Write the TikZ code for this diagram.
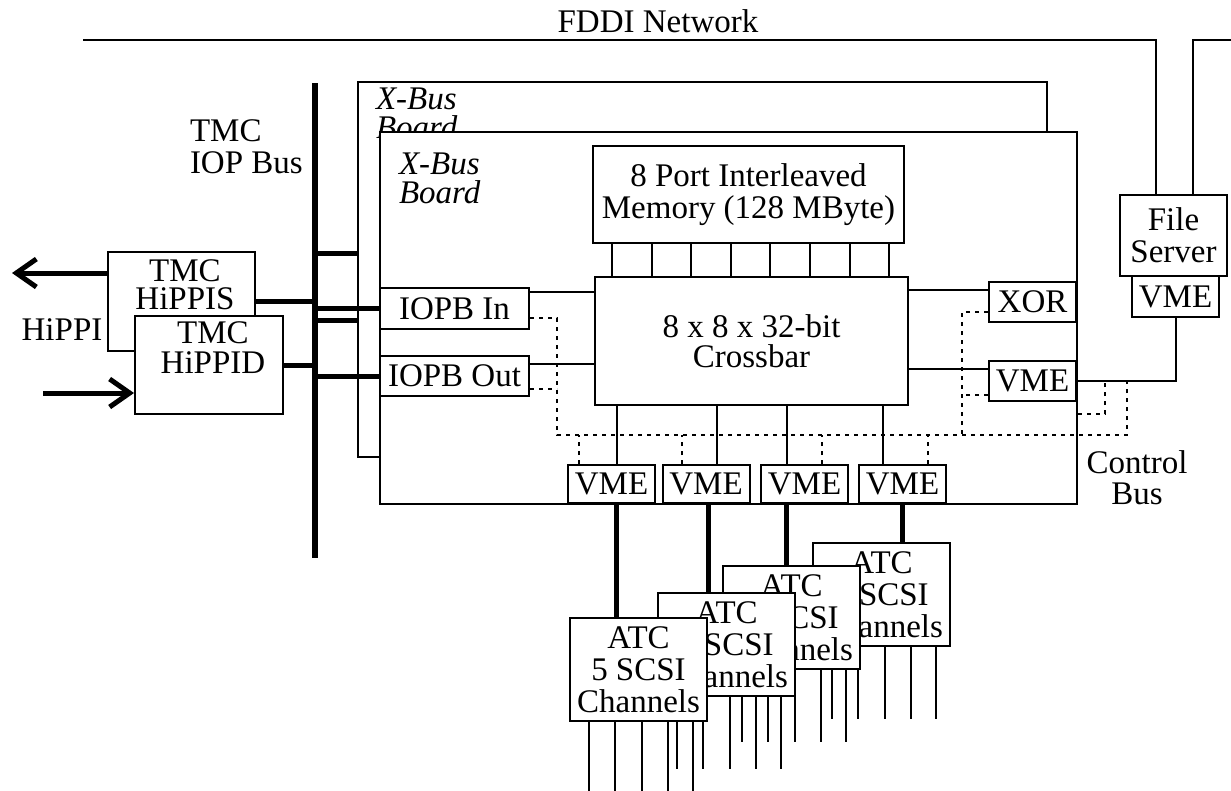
\documentclass[tikz,border=0pt]{standalone}
\usepackage{fontspec}
\setmainfont{Liberation Serif}
\usetikzlibrary{arrows.meta}

\begin{document}
\begin{tikzpicture}[x=1pt,y=-1pt,line width=2pt,
  font=\fontsize{33}{32}\selectfont,
  every node/.style={inner sep=0pt},
  box/.style={draw,fill=white,align=center},
  lbl/.style={align=left,anchor=west,font=\fontsize{33}{29}\selectfont\itshape},
  fat/.style={line width=5pt},
  ctl/.style={dash pattern=on 4pt off 5pt},
  >={Straight Barb[length=20pt,width=28pt]}]
  \useasboundingbox (0,0) rectangle (1231,790);
  % FDDI ring and file server
  \coordinate (fddiW) at (83,40);
  \coordinate (fddiE) at (1231,40);
  \node (fddi) at (658,21) {FDDI Network};
  \node[box,minimum width=107pt,minimum height=81pt] (fs) at (1173.5,235.5) {File\\Server};
  \node[box,minimum width=87pt,minimum height=41pt] (fsvme) at (1175.5,296.5) {VME};
  \draw (fddiW) -| ([xshift=-17.5pt]fs.north);
  \draw ([xshift=19.5pt]fs.north) |- (fddiE);
  % IOP bus
  \coordinate (busT) at (315,83);
  \coordinate (busB) at (315,558);
  \draw[line width=6pt] (busT) -- (busB);
  \node[align=left,anchor=west] (ioplbl) at (189,146.5) {TMC\\IOP Bus};
  % HiPPI side
  \node[box,minimum width=147pt,minimum height=99pt] (hippis) at (181.5,301.5) {};
  \node[align=center] (hippistxt) at (185,284.5) {TMC\\[-4pt]HiPPIS};
  \node[box,minimum width=148pt,minimum height=98pt] (hippid) at (209,365) {};
  \node[align=center] (hippidtxt) at (213,348) {TMC\\[-2pt]HiPPID};
  \node (hippilbl) at (62,330) {HiPPI};
  \coordinate (hipOut) at (12,273);
  \coordinate (hipIn) at (43,393);
  \draw[fat,->] ([yshift=28.5pt]hippis.west) -- (hipOut);
  \draw[fat,->] (hipIn) -- (hipIn -| hippid.west);
  % boards
  \node[box,minimum width=689pt,minimum height=375pt] (outer) at (702.5,269.5) {};
  \node[lbl] (outerlbl) at (375,113) {X-Bus\\Board};
  \node[box,minimum width=697pt,minimum height=372pt] (inner) at (728.5,318) {};
  \node[lbl] (innerlbl) at (398,178) {X-Bus\\Board};
  % memory and crossbar
  \node[box,minimum width=311pt,minimum height=97pt] (mem) at (748.5,194.5) {8 Port Interleaved\\Memory (128 MByte)};
  \node[box,minimum width=313pt,minimum height=128pt] (xbar) at (751.5,341) {8 x 8 x 32-bit\\[-2pt]Crossbar};
  \foreach \i in {0,...,7}
    \draw ([xshift=20pt+39.6pt*\i]mem.south west) -- ++(0,34);
  \node[box,minimum width=149pt,minimum height=41pt] (iopbin) at (454.5,308.5) {IOPB In};
  \node[box,minimum width=149pt,minimum height=40pt] (iopbout) at (454.5,376) {IOPB Out};
  \node[box,minimum width=87pt,minimum height=40pt] (xor) at (1032.5,302) {XOR};
  \node[box,minimum width=87pt,minimum height=40pt] (vmer) at (1032.5,381) {VME};
  \foreach \n/\x in {1/611.5,2/706,3/804.5,4/902.5}
    \node[box,minimum width=87pt,minimum height=38pt] (vme\n) at (\x,484) {VME};
  % bus taps
  \coordinate (tapA) at (315,253);
  \coordinate (tapB) at (315,320);
  \draw[fat] (tapA) -- (tapA -| outer.west);
  \draw[fat] (tapB) -- (tapB -| outer.west);
  \draw[fat] (hippis.east) -- (hippis.east -| busT);
  \draw[fat] (hippid.east) -- (hippid.east -| busT);
  \draw[fat] (iopbin.west -| busT) -- (iopbin.west);
  \draw[fat] (iopbout.west -| busT) -- (iopbout.west);
  % crossbar links
  \coordinate (inA) at ([yshift=-5pt]iopbin.north east);
  \coordinate (outA) at ([yshift=-9pt]iopbout.north east);
  \coordinate (xorA) at ([yshift=-9pt]xor.north west);
  \coordinate (vmeA) at ([yshift=-9pt]vmer.north west);
  \draw (inA) -- (inA -| xbar.west);
  \draw (outA) -- (outA -| xbar.west);
  \draw (xorA) -- (xorA -| xbar.east);
  \draw (vmeA) -- (vmeA -| xbar.east);
  \draw (vmer.east) -| (fsvme.south);
  \foreach \n/\dx in {1/5.5,2/11,3/-17.5,4/-19.5} {
    \coordinate (c\n) at ([xshift=\dx pt]vme\n.north);
    \draw (c\n) -- (c\n |- xbar.south);
  }
  % control bus
  \coordinate (cbL) at (557,435);
  \coordinate (cbR) at (1127,435);
  \coordinate (cbX) at (962,435);
  \coordinate (cbS) at (1105,414);
  \coordinate (oD) at ([yshift=-13pt]iopbout.east);
  \coordinate (vD) at ([yshift=-14pt]vmer.west);
  \draw[ctl] ([yshift=-9.5pt]iopbin.east) -| (cbL) -- (cbR) -- (cbR |- vmer.east);
  \draw[ctl] (oD) -- (oD -| cbL);
  \draw[ctl] ([yshift=-10pt]xor.west) -| (cbX);
  \draw[ctl] (vD) -- (vD -| cbX);
  \draw[ctl] (cbS -| inner.east) -| (cbS |- vmer.east);
  \foreach \n/\dx in {1/-32.5,2/-24,3/17.5,4/25.5} {
    \coordinate (e\n) at ([xshift=\dx pt]vme\n.north);
    \draw[ctl] (e\n) -- (e\n |- cbL);
  }
  \node[align=center] (ctllbl) at (1137,478) {Control\\[-1pt]Bus};
  % SCSI channel boards
  \foreach \n/\x/\y in {4/881.5/594.5,3/791.5/617.5,2/726.5/644.5,1/638.5/669.5} {
    \node[box,minimum width=137pt,minimum height=103pt] (atc\n) at (\x,\y) {ATC\\5 SCSI\\Channels};
    \foreach \dx in {20,46,73,99,124}
      \draw ([xshift=\dx pt]atc\n.south west) -- ++(0,72);
  }
  \foreach \n/\dx in {1/4.5,2/2,3/-18.5,4/0} {
    \coordinate (d\n) at ([xshift=\dx pt]vme\n.south);
    \draw[fat] (d\n) -- (d\n |- atc\n.north);
  }
\end{tikzpicture}
\end{document}
